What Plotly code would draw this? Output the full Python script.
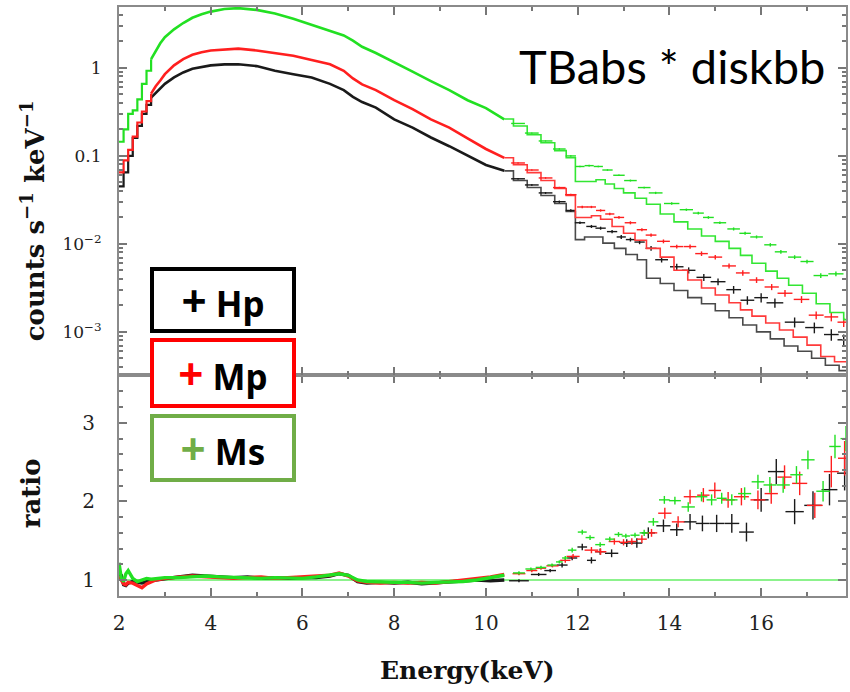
import numpy as np
import plotly.graph_objects as go

# ---------------- data ----------------
# Spectrum, low-energy part (dense bins; data and model overlap)
E_lo = [2.0, 2.1, 2.2, 2.3, 2.4, 2.5, 2.6, 2.7, 2.8, 2.9, 3.0, 3.2, 3.4, 3.6, 3.8,
        4.0, 4.3, 4.6, 5.0, 5.4, 5.8, 6.2, 6.6, 6.9, 7.1, 7.3, 7.6, 8.0, 8.4, 8.8,
        9.2, 9.6, 10.0, 10.4]
hp_lo = [0.045, 0.065, 0.10, 0.16, 0.22, 0.30, 0.38, 0.46, 0.52, 0.59, 0.66, 0.78,
         0.89, 0.98, 1.02, 1.07, 1.10, 1.10, 1.05, 0.93, 0.85, 0.78, 0.66, 0.56,
         0.47, 0.41, 0.355, 0.26, 0.21, 0.162, 0.129, 0.102, 0.079, 0.068]
mp_lo = [0.065, 0.089, 0.117, 0.166, 0.24, 0.32, 0.42, 0.51, 0.62, 0.72, 0.85, 1.07,
         1.26, 1.41, 1.51, 1.58, 1.62, 1.66, 1.58, 1.48, 1.38, 1.23, 1.10, 0.93,
         0.76, 0.65, 0.56, 0.43, 0.34, 0.26, 0.21, 0.158, 0.12, 0.095]
ms_lo = [0.145, 0.20, 0.30, 0.33, 0.44, 0.66, 0.93, 1.26, 1.55, 1.91, 2.24, 2.75,
         3.24, 3.72, 4.07, 4.37, 4.68, 4.79, 4.57, 4.17, 3.63, 3.09, 2.63, 2.34,
         2.04, 1.74, 1.48, 1.17, 0.91, 0.71, 0.56, 0.43, 0.35, 0.26]

# Spectrum, high-energy data points (bin centre, counts/s/keV, relative error)
hp_E = [10.7, 11.0, 11.3, 11.6, 11.85, 12.05, 12.3, 12.5, 12.75, 12.95, 13.15, 13.35,
        13.6, 13.83, 14.16, 14.42, 14.75, 15.06, 15.4, 15.7, 16.0, 16.3, 16.73, 17.16,
        17.53, 17.8]
hp_v = [0.0550, 0.0468, 0.0380, 0.0302, 0.0240, 0.0174, 0.0158, 0.0151, 0.0138, 0.0120,
        0.0112, 0.0105, 0.00891, 0.00661, 0.00550, 0.00501, 0.00417, 0.00372, 0.00302,
        0.00229, 0.00245, 0.00214, 0.00129, 0.00112, 0.000933, 0.000813]
hp_re = [.02, .02, .025, .03, .03, .035, .04, .04, .045, .05, .05, .055, .06, .07, .08,
         .08, .09, .09, .1, .11, .12, .12, .13, .14, .15, .15]

mp_E = [10.7, 11.0, 11.3, 11.6, 11.85, 12.1, 12.3, 12.5, 12.7, 12.9, 13.15, 13.4, 13.6,
        13.87, 14.16, 14.45, 14.7, 15.0, 15.3, 15.6, 15.9, 16.23, 16.52, 16.88, 17.2,
        17.53, 17.8]
mp_v = [0.0832, 0.0692, 0.0562, 0.0437, 0.0363, 0.0263, 0.0263, 0.0240, 0.0219, 0.0200,
        0.0174, 0.0145, 0.0126, 0.0107, 0.00933, 0.00933, 0.00776, 0.00708, 0.00562,
        0.00468, 0.00389, 0.00324, 0.00275, 0.00234, 0.00155, 0.00148, 0.00129]
mp_re = [.015, .015, .02, .02, .025, .03, .03, .03, .035, .035, .04, .04, .045, .05, .05,
         .055, .06, .06, .065, .07, .075, .08, .085, .09, .1, .11, .12]

ms_E = [10.7, 11.0, 11.3, 11.6, 11.85, 12.05, 12.25, 12.45, 12.65, 12.9, 13.15, 13.45,
        13.7, 14.05, 14.37, 14.63, 14.85, 15.1, 15.4, 15.65, 15.9, 16.2, 16.43, 16.73,
        17.0, 17.3, 17.63]
ms_v = [0.234, 0.182, 0.148, 0.120, 0.100, 0.0759, 0.0776, 0.0759, 0.0692, 0.0603,
        0.0525, 0.0437, 0.0380, 0.0288, 0.0245, 0.0224, 0.0200, 0.0174, 0.0148, 0.0132,
        0.0120, 0.00977, 0.00813, 0.00708, 0.00631, 0.00437, 0.00457]
ms_re = [.01, .01, .01, .015, .015, .02, .02, .02, .02, .02, .025, .025, .03, .03, .03,
         .035, .035, .035, .04, .04, .04, .045, .05, .05, .05, .06, .06]

# Model step curves at high energy (bin left edges, model value)
hp_mE = [10.4, 10.6, 10.9, 11.2, 11.5, 11.75, 11.95, 12.15, 12.55, 12.8, 13.05, 13.3,
         13.5, 13.8, 14.1, 14.4, 14.7, 15.0, 15.3, 15.6, 15.9, 16.2, 16.5, 16.8, 17.1,
         17.4, 17.7, 18.0]
hp_m = [0.0676, 0.0525, 0.0437, 0.0355, 0.0288, 0.0234, 0.0112, 0.0120, 0.0102, 0.00891,
        0.00759, 0.00661, 0.00407, 0.00355, 0.00295, 0.00245, 0.00209, 0.00174, 0.00145,
        0.00120, 0.00100, 0.000832, 0.000692, 0.000603, 0.000501, 0.000417, 0.000363,
        0.000363]
mp_mE = [10.4, 10.6, 10.9, 11.2, 11.5, 11.75, 11.95, 12.3, 12.5, 12.75, 13.0, 13.25,
         13.5, 13.8, 14.1, 14.4, 14.7, 15.0, 15.3, 15.55, 15.8, 16.1, 16.4, 16.7, 17.0,
         17.3, 17.6, 18.0]
mp_m = [0.0955, 0.0794, 0.0646, 0.0525, 0.0427, 0.0355, 0.0200, 0.0209, 0.0191, 0.0158,
        0.0132, 0.0110, 0.00891, 0.00708, 0.00501, 0.00389, 0.00316, 0.00263, 0.00214,
        0.00178, 0.00151, 0.00126, 0.00105, 0.000871, 0.000708, 0.000525, 0.000457,
        0.000457]
ms_mE = [10.4, 10.6, 10.9, 11.2, 11.5, 11.75, 11.95, 12.2, 12.4, 12.6, 12.8, 13.0, 13.25,
         13.5, 13.8, 14.1, 14.4, 14.7, 15.0, 15.3, 15.55, 15.8, 16.1, 16.35, 16.6, 16.9,
         17.2, 17.5, 17.8, 18.0]
ms_m = [0.263, 0.219, 0.174, 0.141, 0.115, 0.0955, 0.0513, 0.0513, 0.0537, 0.0479,
        0.0427, 0.0380, 0.0331, 0.0282, 0.0219, 0.0178, 0.0148, 0.0123, 0.0107, 0.00891,
        0.00741, 0.00603, 0.00490, 0.00407, 0.00339, 0.00275, 0.00209, 0.00166, 0.00138,
        0.00138]

# Ratio panel, low-energy part
R_lo_E = [2.0, 2.05, 2.1, 2.15, 2.2, 2.3, 2.4, 2.5, 2.6, 2.7, 2.8, 3.0, 3.3, 3.6, 3.9,
          4.2, 4.5, 4.8, 5.1, 5.4, 5.7, 6.0, 6.3, 6.6, 6.8, 7.0, 7.2, 7.4, 7.7, 8.0,
          8.3, 8.6, 8.9, 9.2, 9.5, 9.8, 10.1, 10.4]
hp_r_lo = [1.08, 1.06, 0.94, 0.93, 0.96, 0.98, 0.97, 0.96, 0.98, 1.0, 1.0, 1.02, 1.04,
           1.06, 1.05, 1.03, 1.03, 1.04, 1.02, 1.03, 1.02, 1.03, 1.03, 1.05, 1.08, 1.06,
           0.98, 0.96, 0.97, 0.96, 0.97, 0.95, 0.96, 0.97, 0.98, 1.0, 0.99, 1.0]
mp_r_lo = [1.05, 1.0, 0.95, 0.94, 0.97, 0.96, 0.93, 0.90, 0.95, 0.98, 1.0, 1.02, 1.03,
           1.05, 1.04, 1.03, 1.02, 1.03, 1.04, 1.02, 1.03, 1.03, 1.04, 1.06, 1.09, 1.05,
           0.99, 0.97, 0.96, 0.97, 0.96, 0.97, 0.96, 0.98, 0.99, 1.01, 1.04, 1.07]
ms_r_lo = [1.22, 1.02, 0.98, 1.08, 1.12, 1.02, 0.98, 1.0, 1.02, 1.01, 1.02, 1.03, 1.03,
           1.04, 1.05, 1.04, 1.03, 1.02, 1.02, 1.03, 1.03, 1.02, 1.04, 1.07, 1.08, 1.06,
           1.0, 0.98, 0.97, 0.97, 0.97, 0.96, 0.97, 0.97, 0.98, 1.0, 1.03, 1.06]

# Ratio panel, high-energy points (E, ratio, error)
hp_rE = [10.72, 11.15, 11.4, 11.66, 11.88, 12.1, 12.3, 12.49, 12.74, 13.07, 13.29, 13.54,
         13.87, 14.16, 14.45, 14.72, 15.03, 15.36, 15.68, 16.0, 16.33, 16.73, 17.13,
         17.49, 17.82]
hp_r = [0.99, 1.07, 1.12, 1.19, 1.28, 1.42, 1.25, 1.36, 1.34, 1.47, 1.47, 1.60, 1.69,
        1.64, 1.74, 1.72, 1.72, 1.72, 1.61, 2.02, 2.38, 1.87, 1.95, 2.15, 2.36]
hp_rerr = [.02, .02, .02, .03, .03, .04, .04, .04, .05, .05, .06, .07, .08, .08, .1, .1,
           .11, .12, .12, .15, .16, .16, .18, .2, .22]
mp_rE = [10.72, 11.0, 11.2, 11.45, 11.73, 11.9, 12.3, 12.5, 12.8, 13.0, 13.18, 13.4, 13.61,
         13.9, 14.19, 14.45, 14.74, 14.99, 15.28, 15.57, 15.93, 16.22, 16.51, 16.84,
         17.17, 17.53, 17.82]
mp_r = [1.08, 1.12, 1.15, 1.18, 1.25, 1.30, 1.38, 1.36, 1.49, 1.48, 1.49, 1.52, 1.60,
        1.85, 1.74, 2.06, 2.08, 2.14, 2.02, 2.06, 2.02, 2.10, 2.31, 2.23, 1.95, 2.38, 2.55]
mp_rerr = [.02, .02, .02, .02, .03, .03, .04, .04, .04, .04, .04, .05, .05, .07, .07, .09,
           .09, .1, .1, .11, .12, .13, .15, .15, .16, .2, .22]
ms_rE = [10.72, 10.98, 11.2, 11.44, 11.6, 11.73, 11.88, 12.1, 12.27, 12.49, 12.7, 12.89,
         13.05, 13.25, 13.45, 13.65, 13.89, 14.12, 14.41, 14.70, 14.92, 15.14, 15.36,
         15.64, 15.93, 16.19, 16.48, 16.77, 17.02, 17.35, 17.61, 17.85]
ms_r = [1.09, 1.14, 1.16, 1.19, 1.23, 1.28, 1.38, 1.61, 1.54, 1.45, 1.52, 1.58, 1.56, 1.57,
        1.60, 1.74, 2.02, 2.01, 1.93, 2.06, 2.02, 2.04, 2.02, 2.10, 2.25, 2.21, 2.21, 2.34,
        2.53, 2.13, 2.70, 2.80]
ms_rerr = [.02, .02, .02, .02, .02, .025, .03, .03, .03, .03, .03, .03, .03, .03, .04, .05,
           .05, .05, .06, .06, .07, .07, .07, .08, .09, .1, .1, .11, .12, .13, .15, .16]

x_ticks = [2, 4, 6, 8, 10, 12, 14, 16]
y_ticks = [0.001, 0.01, 0.1, 1]
y_ticktext = ["10<sup>−3</sup>", "10<sup>−2</sup>", "0.1", "1"]
r_ticks = [1, 2, 3]

COL = {"Hp": "#1a1a1a", "Mp": "#ff1f1f", "Ms": "#22e022"}
MODEL_COL = {"Hp": "#4a4a4a", "Mp": "#ff3a3a", "Ms": "#33e633"}
BOX_COL = {"Hp": "#000000", "Mp": "#ff0000", "Ms": "#70ad47"}
PLUS_COL = {"Hp": "#000000", "Mp": "#ff0000", "Ms": "#70ad47"}


def half_bins(E):
    e = np.asarray(E, dtype=float)
    return (np.gradient(e) / 2.0).tolist()


fig = go.Figure()

series = [
    ("Hp", hp_lo, hp_E, hp_v, hp_re, hp_mE, hp_m, hp_r_lo, hp_rE, hp_r, hp_rerr),
    ("Mp", mp_lo, mp_E, mp_v, mp_re, mp_mE, mp_m, mp_r_lo, mp_rE, mp_r, mp_rerr),
    ("Ms", ms_lo, ms_E, ms_v, ms_re, ms_mE, ms_m, ms_r_lo, ms_rE, ms_r, ms_rerr),
]

n_step = E_lo.index(2.7) + 1
for name, lo, dE, dv, dre, mE, mv, rlo, rE, rv, rerr in series:
    c = COL[name]
    mc = MODEL_COL[name]
    # low-energy spectrum: stepped first bins, then dense data line
    fig.add_trace(go.Scatter(x=E_lo[:n_step], y=lo[:n_step], mode="lines",
                             line=dict(color=c, width=2.2, shape="hv"),
                             xaxis="x2", yaxis="y", showlegend=False))
    fig.add_trace(go.Scatter(x=E_lo[n_step - 1:], y=lo[n_step - 1:], mode="lines",
                             line=dict(color=c, width=2.6),
                             xaxis="x2", yaxis="y", showlegend=False))
    # high-energy model steps
    fig.add_trace(go.Scatter(x=mE, y=mv, mode="lines",
                             line=dict(color=mc, width=1.6, shape="hv"),
                             xaxis="x2", yaxis="y", showlegend=False))
    # high-energy data crosses
    fig.add_trace(go.Scatter(x=dE, y=dv, mode="markers",
                             marker=dict(size=1, color=c),
                             error_x=dict(type="data", array=half_bins(dE), color=c,
                                          thickness=1.4, width=0),
                             error_y=dict(type="data", array=[v * r for v, r in zip(dv, dre)],
                                          color=c, thickness=1.4, width=0),
                             xaxis="x2", yaxis="y", showlegend=False))

# ratio reference line
fig.add_trace(go.Scatter(x=[2, 18], y=[1, 1], mode="lines",
                         line=dict(color="#66ee66", width=1.6),
                         xaxis="x", yaxis="y2", showlegend=False))

for name, lo, dE, dv, dre, mE, mv, rlo, rE, rv, rerr in series:
    c = COL[name]
    fig.add_trace(go.Scatter(x=R_lo_E, y=rlo, mode="lines",
                             line=dict(color=c, width=3.4),
                             xaxis="x", yaxis="y2", showlegend=False))
    fig.add_trace(go.Scatter(x=rE, y=rv, mode="markers",
                             marker=dict(size=1, color=c),
                             error_x=dict(type="data", array=half_bins(rE), color=c,
                                          thickness=1.4, width=0),
                             error_y=dict(type="data", array=rerr, color=c,
                                          thickness=1.4, width=0),
                             xaxis="x", yaxis="y2", showlegend=False))

# ---------------- layout ----------------
W, H = 850, 692
L, R, T, B = 119, 2, 7, 96
PW, PH = W - L - R, H - T - B
split = (596 - 375) / PH

AX = dict(showline=True, linecolor="#8a8a8a", linewidth=2, mirror="allticks",
          ticks="inside", tickcolor="#777777", tickwidth=1.5, showgrid=False,
          zeroline=False)
serif = "DejaVu Serif"

minor_log = [k * 10.0 ** p for p in (-4, -3, -2, -1, 0) for k in range(2, 10)]

fig.update_layout(
    width=W, height=H,
    margin=dict(l=L, r=R, t=T, b=B),
    paper_bgcolor="white", plot_bgcolor="white",
    xaxis=dict(AX, domain=[0, 1], anchor="y2", range=[2, 17.85],
               tickmode="array", tickvals=x_ticks, ticklen=8,
               minor=dict(dtick=1, ticks="inside", ticklen=4, tickcolor="#777777"),
               tickfont=dict(family=serif, size=20, color="#222"),
               ticklabelstandoff=8),
    xaxis2=dict(AX, domain=[0, 1], anchor="y", matches="x", range=[2, 17.85],
                tickmode="array", tickvals=x_ticks, ticklen=8, showticklabels=False,
                minor=dict(dtick=1, ticks="inside", ticklen=4, tickcolor="#777777")),
    yaxis=dict(AX, domain=[split, 1], anchor="x2", type="log",
               range=[-3.49, 0.693], tickmode="array", tickvals=y_ticks,
               ticktext=y_ticktext, ticklen=8,
               minor=dict(tickmode="array", tickvals=minor_log, ticks="inside",
                          ticklen=4, tickcolor="#777777"),
               tickfont=dict(family=serif, size=17, color="#222"),
               ticklabelstandoff=12),
    yaxis2=dict(AX, domain=[0, split], anchor="x", range=[0.796, 3.61],
                tickmode="array", tickvals=r_ticks, ticklen=8,
                minor=dict(dtick=0.2, ticks="inside", ticklen=4, tickcolor="#777777"),
                tickfont=dict(family=serif, size=20, color="#222"),
                ticklabelstandoff=18),
)


def px2paper(px, py):
    return (px - L) / PW, (H - B - py) / PH


anns = []
# axis titles
x, y = px2paper(33, 221)
anns.append(dict(x=x, y=y, text="<b>counts s<sup>−1</sup> keV<sup>−1</sup></b>",
                 textangle=-90, font=dict(family=serif, size=26, color="#111")))
x, y = px2paper(31, 493)
anns.append(dict(x=x, y=y, text="<b>ratio</b>", textangle=-90,
                 font=dict(family=serif, size=26, color="#111")))
x, y = px2paper(468, 670)
anns.append(dict(x=x, y=y, text="<b>Energy(keV)</b>",
                 font=dict(family=serif, size=25, color="#111")))
# model label
x, y = px2paper(674, 66)
anns.append(dict(x=x, y=y, text="TBabs * diskbb",
                 font=dict(family="Lato", size=47, color="#000")))

# legend boxes
boxes = [("Hp", 300, 58), ("Mp", 373, 62), ("Ms", 448, 60)]
for name, cy, hgt in boxes:
    x, y = px2paper(223, cy)
    anns.append(dict(
        x=x, y=y, width=138, height=hgt, borderwidth=4, borderpad=0,
        bordercolor=BOX_COL[name], bgcolor="white",
        text=(f"<b><span style='color:{PLUS_COL[name]};font-size:44px'>+</span>"
              f" {name}</b>"),
        font=dict(family="Noto Sans", size=35, color="#000"), align="center"))

for a in anns:
    a.update(xref="paper", yref="paper", showarrow=False,
             xanchor="center", yanchor="middle")
fig.update_layout(annotations=anns)

fig.write_html("out.html")
